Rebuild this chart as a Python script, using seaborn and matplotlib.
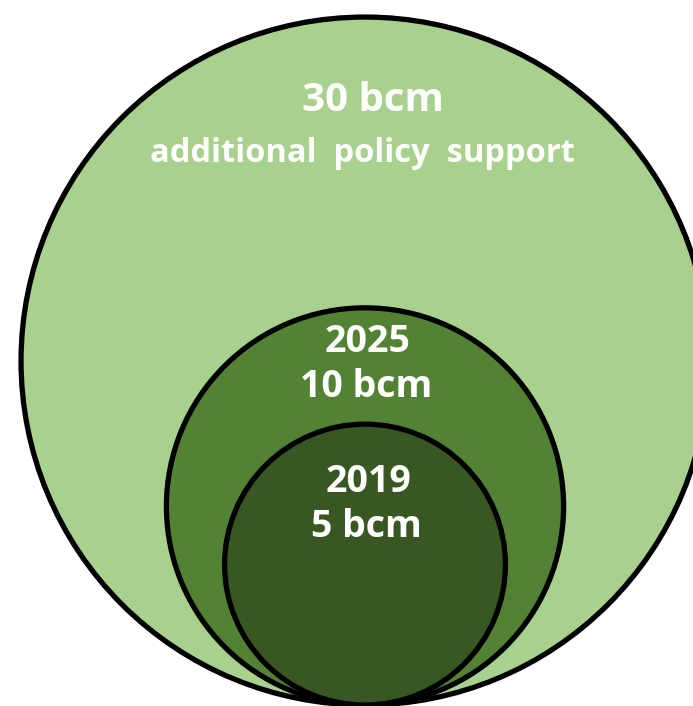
import numpy as np
import pandas as pd
import matplotlib
matplotlib.use("Agg")
import matplotlib.pyplot as plt
from matplotlib.patches import Circle
import seaborn as sns

# Gas volumes (bcm) drawn as nested circles whose area scales with volume
labels = ["additional policy support", "2025", "2019"]
volumes = [30, 10, 5]
headline = ["30 bcm", "2025", "2019"]
subline = ["additional  policy  support", "10 bcm", "5 bcm"]
colors = ["#A9D18E", "#548235", "#385723"]

df = pd.DataFrame({"label": labels, "bcm": volumes, "head": headline,
                   "sub": subline, "color": colors})

sns.set_theme(style="white")
plt.rcParams["font.family"] = ["Open Sans", "DejaVu Sans"]

W, H = 693, 706
fig = plt.figure(figsize=(W / 100, H / 100), dpi=100)
ax = fig.add_axes([0, 0, 1, 1])
ax.set_xlim(0, W)
ax.set_ylim(H, 0)
ax.set_aspect("equal")
ax.axis("off")

# circles share a common bottom tangent point
scale = 62.8          # radius units per sqrt(bcm)
cx, base = 365, 705
df["r"] = scale * np.sqrt(df["bcm"])
df["cy"] = base - df["r"]
df["top"] = df["cy"] - df["r"]

# text offsets below each circle's top, and font sizes
head_off = [83, 34, 58]
sub_off = [136, 79, 103]
head_size = [29, 27, 27]
sub_size = [23.5, 27, 27]

for i, row in df.iterrows():
    ax.add_patch(Circle((cx, row["cy"]), row["r"], facecolor=row["color"],
                        edgecolor="black", linewidth=3.8, zorder=1 + i))

for i, row in df.iterrows():
    ax.text(cx + (8 if i == 0 else 3), row["top"] + head_off[i], row["head"],
            ha="center", va="center", color="white", fontweight="bold",
            fontsize=head_size[i], zorder=10)
    ax.text(cx + (-3 if i == 0 else 1), row["top"] + sub_off[i], row["sub"],
            ha="center", va="center", color="white", fontweight="bold",
            fontsize=sub_size[i], zorder=10)

fig.savefig("out.png", dpi=100, facecolor="white")
